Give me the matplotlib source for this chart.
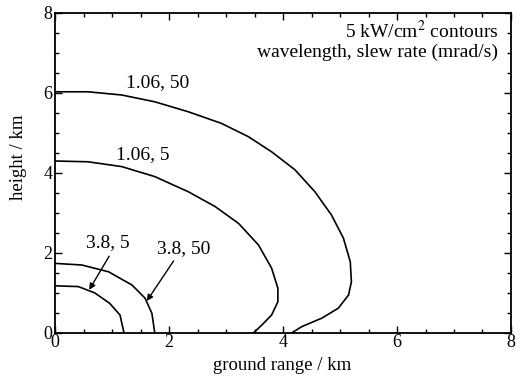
import matplotlib
matplotlib.use("Agg")
import matplotlib.pyplot as plt
from matplotlib.ticker import MultipleLocator

plt.rcParams["font.family"] = ["Liberation Serif", "DejaVu Serif"]
plt.rcParams["mathtext.fontset"] = "stix"

# contour points (ground range km, height km)
x_106_50 = [0, 0.58, 1.17, 1.75, 2.34, 2.92, 3.39, 3.8, 4.21, 4.56, 4.85, 5.06,
            5.18, 5.2, 5.15, 4.97, 4.68, 4.33, 4.15]
y_106_50 = [6.03, 6.03, 5.95, 5.78, 5.53, 5.24, 4.91, 4.53, 4.08, 3.53, 2.95, 2.37,
            1.78, 1.28, 0.95, 0.62, 0.37, 0.16, 0.0]

x_106_5 = [0, 0.58, 1.17, 1.75, 2.34, 2.81, 3.22, 3.57, 3.8, 3.91, 3.91, 3.8,
           3.63, 3.48]
y_106_5 = [4.3, 4.28, 4.16, 3.91, 3.53, 3.16, 2.74, 2.2, 1.62, 1.12, 0.78, 0.45,
           0.2, 0.0]

x_38_50 = [0, 0.47, 0.94, 1.35, 1.58, 1.7, 1.75]
y_38_50 = [1.74, 1.7, 1.53, 1.2, 0.87, 0.49, 0.0]

x_38_5 = [0, 0.41, 0.7, 0.96, 1.14, 1.21]
y_38_5 = [1.18, 1.16, 1.0, 0.74, 0.45, 0.0]

fig = plt.figure(figsize=(5.21, 3.80), dpi=100)
ax = fig.add_axes([0.1056, 0.1237, 0.8752, 0.8421])

for xs, ys in [(x_106_50, y_106_50), (x_106_5, y_106_5),
               (x_38_50, y_38_50), (x_38_5, y_38_5)]:
    ax.plot(xs, ys, color="black", lw=1.2, solid_joinstyle="round")

ax.set_xlim(0, 8)
ax.set_ylim(0, 8)
ax.xaxis.set_major_locator(MultipleLocator(2))
ax.yaxis.set_major_locator(MultipleLocator(2))
ax.xaxis.set_minor_locator(MultipleLocator(0.5))
ax.yaxis.set_minor_locator(MultipleLocator(0.5))
ax.tick_params(which="both", direction="in", top=True, right=True, width=1.0)
ax.tick_params(which="major", length=5, labelsize=13)
ax.tick_params(axis="x", which="major", pad=1)
ax.tick_params(axis="y", which="major", pad=2)
ax.tick_params(which="minor", length=3)
for s in ax.spines.values():
    s.set_linewidth(1.3)

ax.set_xlabel("ground range / km", fontsize=13.5)
ax.set_ylabel("height / km", fontsize=13.5)
ax.xaxis.set_label_coords(0.497, -0.075)
ax.yaxis.set_label_coords(-0.062, 0.55)

# curve labels
ax.text(1.8, 6.25, "1.06, 50", fontsize=14, ha="center", va="center")
ax.text(1.54, 4.45, "1.06, 5", fontsize=14, ha="center", va="center")
ax.text(0.93, 2.26, "3.8, 5", fontsize=14, ha="center", va="center")
ax.text(2.25, 2.12, "3.8, 50", fontsize=14, ha="center", va="center")
arrow = dict(arrowstyle="-|>", color="black", lw=1.0, shrinkA=0, shrinkB=0,
             mutation_scale=9)
ax.annotate("", xy=(0.6, 1.08), xytext=(0.95, 1.92), arrowprops=arrow)
ax.annotate("", xy=(1.61, 0.8), xytext=(2.08, 1.8), arrowprops=arrow)

ax.text(0.972, 0.978, "5 kW/cm$^2$ contours\nwavelength, slew rate (mrad/s)",
        transform=ax.transAxes, ha="right", va="top", fontsize=14,
        linespacing=1.1)

fig.savefig("out.png", dpi=100)
